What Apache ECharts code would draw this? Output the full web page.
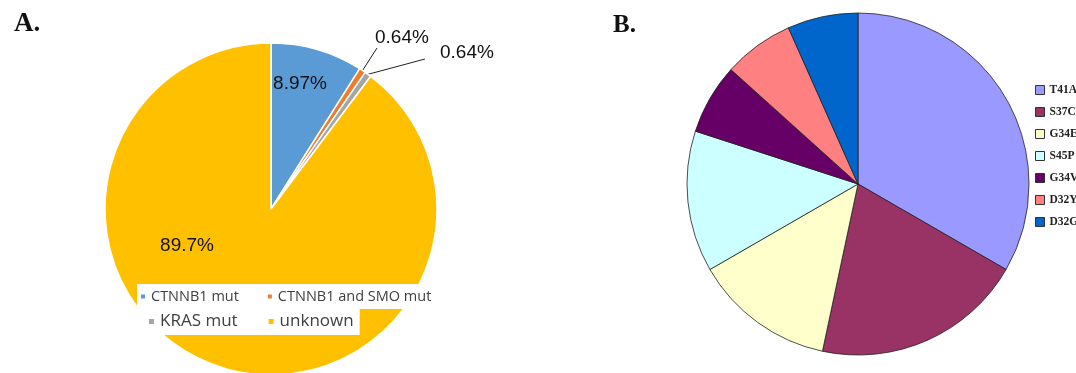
<!DOCTYPE html>
<html>
<head>
<meta charset="utf-8">
<title>Mutation distribution</title>
<script src="https://cdn.jsdelivr.net/npm/echarts@6/dist/echarts.min.js"></script>
<style>
  html, body { margin: 0; padding: 0; background: #fff; }
  #chart { width: 1076px; height: 373px; }
</style>
</head>
<body>
<div id="chart"></div>
<script>
// Panel A: mutation status (percent of cases)
const panelACategories = ['CTNNB1 mut', 'CTNNB1 and SMO mut', 'KRAS mut', 'unknown'];
const panelAValues = [8.97, 0.64, 0.64, 89.7];

// Panel B: CTNNB1 mutation types (number of cases)
const panelBCategories = ['T41A', 'S37C', 'G34E', 'S45P', 'G34V', 'D32Y', 'D32G'];
const panelBValues = [5, 3, 2, 2, 1, 1, 1];

// Colours
const panelAColors = ['#5B9BD5', '#ED7D31', '#A5A5A5', '#FFC000'];
const panelBColors = ['#9999FF', '#993366', '#FFFFCC', '#CCFFFF', '#660066', '#FF8080', '#0066CC'];

// Where each panel-A label sits: inside labels get a centre point,
// outside labels get the text anchor and the end of their leader line.
const panelALabelPlacement = [
  { inside: true, x: 300, y: 84 },
  { inside: false, x: 375, y: 38, lineEnd: [377, 48] },
  { inside: false, x: 440, y: 53, lineEnd: [425, 59] },
  { inside: true, x: 187, y: 246 }
];

const chart = echarts.init(document.getElementById('chart'), null, { renderer: 'canvas' });

const panelAData = panelACategories.map((name, i) => ({
  name: name,
  value: panelAValues[i],
  itemStyle: { color: panelAColors[i] },
  label: { position: panelALabelPlacement[i].inside ? 'inside' : 'outside' },
  labelLine: { show: !panelALabelPlacement[i].inside }
}));

const panelBData = panelBCategories.map((name, i) => ({
  name: name,
  value: panelBValues[i],
  itemStyle: { color: panelBColors[i] }
}));

const option = {
  animation: false,
  backgroundColor: '#fff',
  title: [
    {
      text: 'A.', left: 9, top: 6,
      textStyle: { fontFamily: 'Liberation Serif', fontWeight: 'bold', fontSize: 27, color: '#111' }
    },
    {
      text: 'B.', left: 608, top: 8,
      textStyle: { fontFamily: 'Liberation Serif', fontWeight: 'bold', fontSize: 25, color: '#111' }
    }
  ],
  legend: [
    {
      data: panelACategories.slice(0, 2),
      orient: 'horizontal',
      left: 137, top: 284,
      backgroundColor: '#fff',
      padding: [5, 5, 5, 2],
      icon: 'rect',
      itemWidth: 6, itemHeight: 6,
      itemGap: 27,
      selectedMode: false,
      textStyle: { fontFamily: 'Open Sans', fontSize: 14.5, color: '#404040' }
    },
    {
      data: panelACategories.slice(2),
      orient: 'horizontal',
      left: 137, top: 308,
      backgroundColor: '#fff',
      padding: [5, 6, 5, 10],
      icon: 'rect',
      itemWidth: 7, itemHeight: 7,
      itemGap: 29,
      selectedMode: false,
      textStyle: { fontFamily: 'Open Sans', fontSize: 17, color: '#404040' }
    },
    {
      data: panelBCategories,
      orient: 'vertical',
      left: 1035, top: 84,
      padding: 0,
      icon: 'rect',
      itemWidth: 9, itemHeight: 9,
      itemGap: 10,
      selectedMode: false,
      itemStyle: { borderColor: '#333', borderWidth: 1 },
      textStyle: { fontFamily: 'Liberation Serif', fontWeight: 'bold', fontSize: 11.5, color: '#222' }
    }
  ],
  series: [
    {
      name: 'Mutation status',
      type: 'pie',
      center: [271, 209],
      radius: 166,
      startAngle: 90,
      clockwise: true,
      avoidLabelOverlap: false,
      itemStyle: { borderColor: '#fff', borderWidth: 1.5 },
      label: {
        show: true,
        formatter: '{c}%',
        fontFamily: 'Liberation Sans',
        fontSize: 19,
        color: '#111'
      },
      labelLine: { show: true, lineStyle: { color: '#222', width: 1 } },
      labelLayout: function (params) {
        const p = panelALabelPlacement[params.dataIndex];
        if (p.inside) {
          return { x: p.x, y: p.y, align: 'center', verticalAlign: 'middle' };
        }
        const start = params.labelLinePoints ? params.labelLinePoints[0] : p.lineEnd;
        return {
          x: p.x, y: p.y, align: 'left', verticalAlign: 'middle',
          labelLinePoints: [start, p.lineEnd, p.lineEnd]
        };
      },
      data: panelAData
    },
    {
      name: 'Mutation type',
      type: 'pie',
      center: [858, 184],
      radius: 171,
      startAngle: 90,
      clockwise: true,
      itemStyle: { borderColor: '#222', borderWidth: 0.8 },
      label: { show: false },
      labelLine: { show: false },
      data: panelBData
    }
  ]
};

chart.setOption(option);
</script>
</body>
</html>
